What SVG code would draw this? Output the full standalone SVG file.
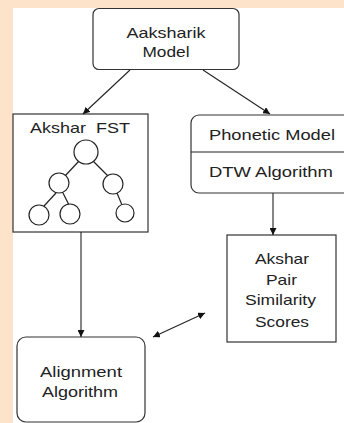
<svg xmlns="http://www.w3.org/2000/svg" width="344" height="423" viewBox="0 0 344 423">
<defs>
<marker id="ah" viewBox="0 0 10 10" refX="10" refY="5" markerWidth="7" markerHeight="7" orient="auto-start-reverse" markerUnits="userSpaceOnUse">
<path d="M0,0 L10,5 L0,10 z" fill="#111"/>
</marker>
<style>
.box{fill:#fff;stroke:#333;stroke-width:1.2}
.t{font-family:"Liberation Sans",Arial,sans-serif;font-size:15px;fill:#222;text-anchor:middle}
.c{fill:#fff;stroke:#222;stroke-width:1.2}
.e{stroke:#222;stroke-width:1.2}
.ln{stroke:#222;stroke-width:1.1;fill:none}
</style>
</defs>
<rect x="0" y="0" width="344" height="423" fill="#FDE3CA"/>
<rect x="13" y="8" width="331" height="415" fill="#fff"/>

<g id="aaksharik">
<rect class="box" x="93" y="8.5" width="146" height="61" rx="6"/>
<text class="t" x="166" y="38" textLength="79" lengthAdjust="spacingAndGlyphs">Aaksharik</text>
<text class="t" x="166" y="57" textLength="47" lengthAdjust="spacingAndGlyphs">Model</text>
</g>

<g id="fst">
<rect class="box" x="13" y="114" width="135" height="118"/>
<text class="t" x="80" y="133" textLength="100" lengthAdjust="spacingAndGlyphs">Akshar&#160; FST</text>
<line class="e" x1="80" y1="160" x2="64" y2="177"/>
<line class="e" x1="93" y1="161" x2="108" y2="176"/>
<line class="e" x1="56" y1="193" x2="44" y2="206"/>
<line class="e" x1="63" y1="193" x2="69" y2="205"/>
<line class="e" x1="117" y1="193" x2="122" y2="205"/>
<circle class="c" cx="86" cy="152" r="12"/>
<circle class="c" cx="59" cy="183" r="10"/>
<circle class="c" cx="113" cy="184" r="10"/>
<circle class="c" cx="39" cy="215" r="10"/>
<circle class="c" cx="70" cy="214" r="10"/>
<circle class="c" cx="125" cy="213" r="9"/>
</g>

<g id="phonetic">
<rect class="box" x="191" y="115" width="165" height="78" rx="8"/>
<line class="e" x1="191" y1="152" x2="344" y2="152"/>
<text class="t" x="272" y="140" textLength="126" lengthAdjust="spacingAndGlyphs">Phonetic Model</text>
<text class="t" x="271" y="177" textLength="124" lengthAdjust="spacingAndGlyphs">DTW Algorithm</text>
</g>

<g id="pair">
<rect class="box" x="227" y="235" width="109" height="107"/>
<text class="t" x="282" y="264" textLength="54" lengthAdjust="spacingAndGlyphs">Akshar</text>
<text class="t" x="281.5" y="285" textLength="31" lengthAdjust="spacingAndGlyphs">Pair</text>
<text class="t" x="280.5" y="305" textLength="71" lengthAdjust="spacingAndGlyphs">Similarity</text>
<text class="t" x="282" y="327" textLength="54" lengthAdjust="spacingAndGlyphs">Scores</text>
</g>

<g id="alignment">
<rect class="box" x="17" y="337" width="128" height="85" rx="9"/>
<text class="t" x="81" y="377" textLength="82" lengthAdjust="spacingAndGlyphs">Alignment</text>
<text class="t" x="80" y="397" textLength="76" lengthAdjust="spacingAndGlyphs">Algorithm</text>
</g>

<g id="connectors">
<line class="ln" x1="130" y1="70" x2="83" y2="114" marker-end="url(#ah)"/>
<line class="ln" x1="203" y1="70" x2="270" y2="114" marker-end="url(#ah)"/>
<line class="ln" x1="273" y1="193" x2="273" y2="235" marker-end="url(#ah)"/>
<line class="ln" x1="81" y1="232" x2="81" y2="337" marker-end="url(#ah)"/>
<line class="ln" x1="153" y1="337" x2="205" y2="313" marker-start="url(#ah)" marker-end="url(#ah)"/>
</g>
</svg>
